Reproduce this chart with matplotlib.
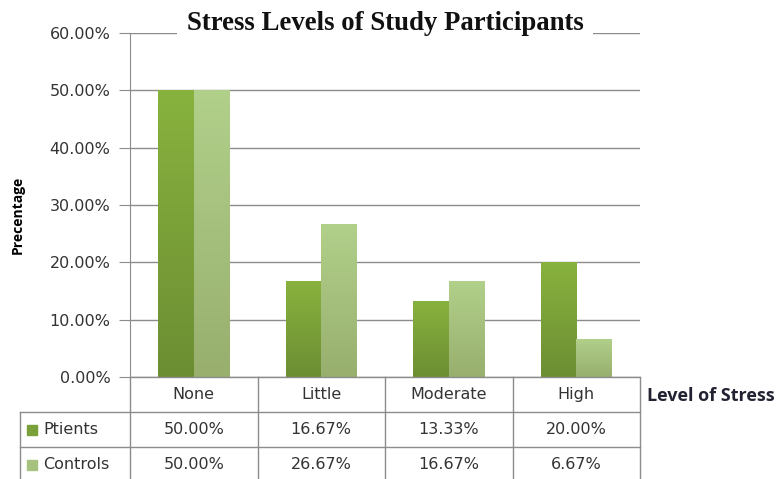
import numpy as np
import matplotlib.pyplot as plt
from matplotlib.colors import LinearSegmentedColormap

# data
categories = ['None', 'Little', 'Moderate', 'High']
series_names = ['Ptients', 'Controls']
patients = [50.00, 16.67, 13.33, 20.00]
controls = [50.00, 26.67, 16.67, 6.67]
yticks = [0, 10, 20, 30, 40, 50, 60]

top_colors = ['#88b23e', '#b1d08a']
bottom_colors = ['#6c8e33', '#98af6e']
legend_colors = ['#7aa139', '#a6c27e']

fig = plt.figure(figsize=(7.8, 4.79), dpi=100)
W, H = 780, 479

# main plot area
ax = fig.add_axes([130 / W, 1 - 377 / H, 510 / W, 344 / H])

bar_w = 0.28
x = np.arange(len(categories))
for k, vals in enumerate([patients, controls]):
    offs = (k - 0.5) * bar_w
    bars = ax.bar(x + offs, vals, width=bar_w, color='none', edgecolor='none', zorder=3)
    cmap = LinearSegmentedColormap.from_list('g%d' % k, [bottom_colors[k], top_colors[k]])
    for b in bars:
        # vertical gradient fill, clipped to each bar
        x0, w, h = b.get_x(), b.get_width(), b.get_height()
        grad = np.linspace(0, 1, 100).reshape(-1, 1)
        im = ax.imshow(grad, cmap=cmap, origin='lower', aspect='auto',
                       extent=[x0, x0 + w, 0, h], zorder=3)
        im.set_clip_path(b)
ax.set_xlim(-0.5, len(categories) - 0.5)
ax.set_ylim(0, 60)

ax.set_yticks(yticks)
ax.set_yticklabels(['%.2f%%' % v for v in yticks], fontsize=11.5, color='#333333')
ax.yaxis.grid(True, color='#8c8c8c', linewidth=1.0, zorder=0)
ax.set_axisbelow(True)
ax.tick_params(axis='y', length=8, color='#8c8c8c', pad=6)
ax.set_xticks([])
for s in ['top', 'right', 'bottom']:
    ax.spines[s].set_visible(False)
ax.spines['left'].set_color('#8c8c8c')

fig.text(385 / W, 1 - 23 / H, 'Stress Levels of Study Participants', fontsize=19.3,
         fontweight='bold', family='Liberation Serif', ha='center', va='center',
         color='#111111', bbox=dict(facecolor='white', edgecolor='none', pad=7), zorder=5)

fig.text(18 / W, 1 - 215 / H, 'Precentage', rotation=90, fontsize=10, fontweight='bold',
         ha='center', va='center', family='Open Sans')
fig.text(647 / W, 1 - 396 / H, 'Level of Stress', fontsize=13, fontweight='bold',
         ha='left', va='center', family='Open Sans', color='#222233')

# data table below the axis
row_h = 35
tab = fig.add_axes([0, 0, 1, 1], facecolor='none')
tab.set_xlim(0, W)
tab.set_ylim(H, 0)
tab.axis('off')
px = lambda v: 130 + (v + 0.5) * 127.5
line_c = '#8c8c8c'
y0 = 377
ys = [y0 + i * row_h for i in range(4)]
tab.plot([px(-0.5), px(3.5)], [ys[0], ys[0]], color=line_c, lw=1.0)
for yy in ys[1:3]:
    tab.plot([20, px(3.5)], [yy, yy], color=line_c, lw=1.0)
for i in range(len(categories) + 1):
    tab.plot([px(i - 0.5)] * 2, [ys[0], H], color=line_c, lw=1.0)
tab.plot([20, 20], [ys[1], H], color=line_c, lw=1.0)

for i, c in enumerate(categories):
    tab.text(px(i), (ys[0] + ys[1]) / 2, c, ha='center', va='center', fontsize=11.5, color='#333333')
    tab.text(px(i), (ys[1] + ys[2]) / 2, '%.2f%%' % patients[i], ha='center', va='center',
             fontsize=11.5, color='#333333')
    tab.text(px(i), (ys[2] + ys[3]) / 2, '%.2f%%' % controls[i], ha='center', va='center',
             fontsize=11.5, color='#333333')
for k, name in enumerate(series_names):
    yc = (ys[k + 1] + ys[k + 2]) / 2
    tab.add_patch(plt.Rectangle((27, yc - 5), 10, 10, color=legend_colors[k]))
    tab.text(43, yc, name, ha='left', va='center', fontsize=11.5, color='#333333')

fig.savefig('out.png', dpi=100)
